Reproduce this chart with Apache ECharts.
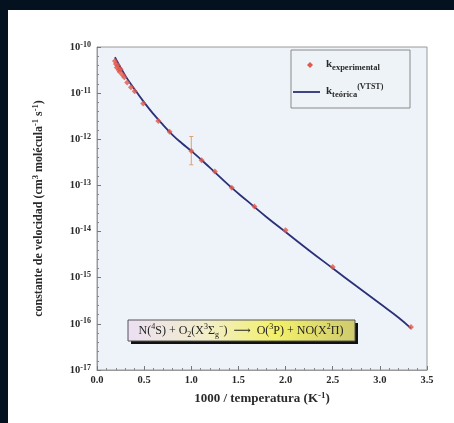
<!DOCTYPE html>
<html><head><meta charset="utf-8">
<script src="https://cdn.jsdelivr.net/npm/echarts@6/dist/echarts.min.js"></script>
<style>
html,body{margin:0;padding:0;background:#04121f;width:454px;height:423px;overflow:hidden;}
#card{position:absolute;left:8px;top:10px;width:446px;height:413px;background:#ffffff;}
#c{position:absolute;left:0;top:0;width:454px;height:423px;}
</style>
</head><body><div id="card"></div><div id="c"></div>
<script>
// experimental rate constants: x = 1000/T (K^-1), k (cm3 molecule-1 s-1)
const expX = [0.19, 0.20, 0.21, 0.22, 0.23, 0.24, 0.25, 0.27, 0.29, 0.32, 0.36, 0.40, 0.49, 0.65, 0.77, 1.00, 1.11, 1.25, 1.43, 1.67, 2.00, 2.50, 3.33];
const expK = [5.0e-11, 4.3e-11, 3.6e-11, 4.0e-11, 3.2e-11, 2.9e-11, 3.3e-11, 2.5e-11, 2.2e-11, 1.7e-11, 1.35e-11, 1.1e-11, 6.0e-12, 2.5e-12, 1.45e-12, 5.6e-13, 3.5e-13, 2.0e-13, 8.9e-14, 3.5e-14, 1.07e-14, 1.7e-15, 8.5e-17];
// error bar
const errX = [1.00];
const errLow = [2.8e-13];
const errHigh = [1.15e-12];
// theoretical (VTST) curve
const fitX = [0.19, 0.30, 0.40, 0.50, 0.60, 0.70, 0.80, 0.90, 1.00, 1.20, 1.40, 1.60, 1.80, 2.00, 2.25, 2.50, 2.75, 3.00, 3.20, 3.33];
const fitK = [6.0e-11, 2.4e-11, 1.2e-11, 6.3e-12, 3.5e-12, 2.05e-12, 1.25e-12, 8.2e-13, 5.6e-13, 2.4e-13, 1.0e-13, 4.5e-14, 2.05e-14, 9.8e-15, 3.9e-15, 1.6e-15, 6.6e-16, 2.75e-16, 1.36e-16, 8.0e-17];
// axis ranges
const xMin = 0, xMax = 3.5, xStep = 0.5;
const yMin = 1e-17, yMax = 1e-10;
const yExpMin = -17, yExpMax = -10;

const SERIF = '"Liberation Serif","DejaVu Serif",serif';
const INK = '#2a2a2a';
const chart = echarts.init(document.getElementById('c'), null, {renderer: 'canvas'});

const bold = (size, extra) => Object.assign({fontFamily: SERIF, fontWeight: 'bold', fontSize: size, color: INK}, extra || {});

chart.setOption({
  backgroundColor: 'transparent',
  animation: false,
  grid: {left: 97, right: 27, top: 47, bottom: 53, show: true, backgroundColor: '#edf3f8', borderColor: '#9a9a9a', borderWidth: 1},
  xAxis: {
    type: 'value', min: xMin, max: xMax, interval: xStep,
    axisLine: {show: true, lineStyle: {color: '#9a9a9a'}},
    axisTick: {show: true, inside: true, length: 4, lineStyle: {color: '#777'}},
    minorTick: {show: true, splitNumber: 5, length: 2, lineStyle: {color: '#888'}},
    splitLine: {show: false},
    axisLabel: Object.assign(bold(10.5), {formatter: v => v.toFixed(1), margin: 5}),
    name: '1000 / temperatura (K{sup|-1})',
    nameLocation: 'middle', nameGap: 20,
    nameTextStyle: bold(13, {lineHeight: 16, rich: {sup: bold(9, {verticalAlign: 'top', lineHeight: 16})}})
  },
  yAxis: [{
    type: 'log', logBase: 10, min: yMin, max: yMax, splitNumber: 7,
    axisLine: {show: true, lineStyle: {color: '#9a9a9a'}},
    axisTick: {show: true, inside: true, length: 4, lineStyle: {color: '#777'}},
    splitLine: {show: false},
    axisLabel: {
      margin: 6,
      formatter: function (v) { const e = Math.round(Math.log10(v)); return '{b|10}{s|' + e + '}'; },
      rich: {b: bold(10.5, {lineHeight: 13}), s: bold(8, {verticalAlign: 'top', lineHeight: 13})}
    },
    name: 'constante de velocidad (cm{sup|3} molécula{sup|-1} s{sup|-1})',
    nameLocation: 'middle', nameGap: 51,
    nameTextStyle: bold(12, {lineHeight: 15, rich: {sup: bold(8.5, {verticalAlign: 'top', lineHeight: 15})}})
  }, {
    // tick-only companion axis (exponent scale) for the minor ticks
    type: 'value', position: 'left', min: yExpMin, max: yExpMax, interval: 1,
    axisLine: {show: false, onZero: false}, axisLabel: {show: false}, splitLine: {show: false},
    axisTick: {show: true, inside: true, length: 4, lineStyle: {color: '#777'}},
    minorTick: {show: true, splitNumber: 5, length: 2, lineStyle: {color: '#888'}}
  }],
  graphic: [
    // legend box
    {type: 'rect', shape: {x: 291, y: 50, width: 119, height: 58}, style: {fill: '#eef3f7', stroke: '#8a8a8a', lineWidth: 1}, z: 10},
    {type: 'polygon', z: 11, shape: {points: [[310, 62], [313, 65], [310, 68], [307, 65]]}, style: {fill: '#e2584a'}},
    {type: 'line', z: 11, shape: {x1: 293, y1: 92, x2: 320, y2: 92}, style: {stroke: '#2b3078', lineWidth: 1.8}},
    {type: 'text', z: 11, x: 326, y: 64,
      style: {text: '{k|k}{sub|experimental}', verticalAlign: 'middle',
        rich: {k: {fontFamily: SERIF, fontWeight: 'bold', fontSize: 11, fill: INK, lineHeight: 16},
               sub: {fontFamily: SERIF, fontWeight: 'bold', fontSize: 8.5, fill: INK, verticalAlign: 'bottom', lineHeight: 16}}}},
    {type: 'text', z: 11, x: 326, y: 91,
      style: {text: '{k|k}{sub|teórica}{sup|(VTST)}', verticalAlign: 'middle',
        rich: {k: {fontFamily: SERIF, fontWeight: 'bold', fontSize: 11, fill: INK, lineHeight: 16},
               sub: {fontFamily: SERIF, fontWeight: 'bold', fontSize: 8.5, fill: INK, verticalAlign: 'bottom', lineHeight: 16},
               sup: {fontFamily: SERIF, fontWeight: 'bold', fontSize: 8, fill: INK, verticalAlign: 'top', lineHeight: 16}}}},
    // reaction label box
    {type: 'rect', shape: {x: 131, y: 323, width: 227, height: 21}, style: {fill: '#111'}, z: 5},
    {type: 'rect', shape: {x: 128, y: 320, width: 227, height: 21},
      style: {fill: new echarts.graphic.LinearGradient(0, 0, 1, 0, [
        {offset: 0, color: '#ebdff3'}, {offset: 0.35, color: '#f2eec8'}, {offset: 0.65, color: '#f3f06a'}, {offset: 1, color: '#cfca6e'}]),
        stroke: '#555', lineWidth: 1}, z: 6},
    {type: 'text', x: 241, y: 330.5, z: 7,
      style: {
        text: '{n|N(}{p|4}{n|S) + O}{b|2}{n|(X}{p|3}{n|Σ}{b|g}{p|−}{n|)  ⟶  O(}{p|3}{n|P) + NO(X}{p|2}{n|Π)}',
        align: 'center', verticalAlign: 'middle',
        rich: {
          n: {fontFamily: SERIF, fontSize: 12, fill: '#222', lineHeight: 16},
          p: {fontFamily: SERIF, fontSize: 8, fill: '#222', verticalAlign: 'top', lineHeight: 16},
          b: {fontFamily: SERIF, fontSize: 8, fill: '#222', verticalAlign: 'bottom', lineHeight: 16}
        }
      }}
  ],
  series: [
    {
      name: 'teo', type: 'line', smooth: true, showSymbol: false, symbol: 'none', z: 3,
      lineStyle: {color: '#2b3078', width: 1.8},
      data: fitX.map((x, i) => [x, fitK[i]])
    },
    {
      name: 'err', type: 'custom', z: 4,
      data: errX.map((x, i) => [x, errLow[i], errHigh[i]]),
      encode: {x: 0, y: [1, 2]},
      renderItem: function (params, api) {
        const x = api.value(0);
        const a = api.coord([x, api.value(1)]);
        const b = api.coord([x, api.value(2)]);
        const st = {stroke: '#e0a070', lineWidth: 1};
        return {type: 'group', children: [
          {type: 'line', shape: {x1: a[0], y1: a[1], x2: b[0], y2: b[1]}, style: st},
          {type: 'line', shape: {x1: a[0] - 2, y1: a[1], x2: a[0] + 2, y2: a[1]}, style: st},
          {type: 'line', shape: {x1: b[0] - 2, y1: b[1], x2: b[0] + 2, y2: b[1]}, style: st}
        ]};
      }
    },
    {
      name: 'exp', type: 'scatter', symbol: 'diamond', symbolSize: 6, z: 5,
      itemStyle: {color: '#e2584a'},
      data: expX.map((x, i) => [x, expK[i]])
    }
  ]
});
</script>
</body></html>
